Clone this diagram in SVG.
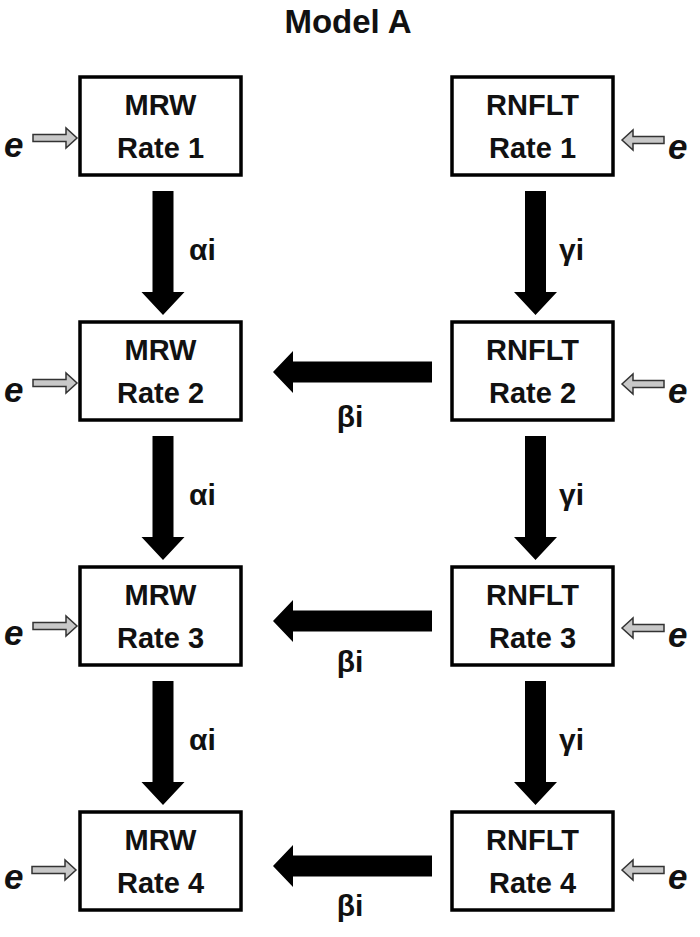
<svg xmlns="http://www.w3.org/2000/svg" width="700" height="937" viewBox="0 0 700 937">
<defs>
<style>
.box{fill:#fff;stroke:#000;stroke-width:3.5}
.bt{font-family:"Liberation Sans",Arial,sans-serif;font-weight:bold;font-size:29px;text-anchor:middle;fill:#111}
.lbl{font-family:"Liberation Sans",Arial,sans-serif;font-weight:bold;font-size:30px;fill:#111}
.e{font-family:"Liberation Sans",Arial,sans-serif;font-weight:bold;font-style:italic;font-size:35px;fill:#111}
.big{fill:#000}
.gray{fill:#c8c8c8;stroke:#333;stroke-width:1.5;stroke-linejoin:miter}
</style>
<path id="downArrow" class="big" d="M-10.5,0 H10.5 V101 H21.5 L0,124 L-21.5,101 H-10.5 Z"/>
<path id="leftArrow" class="big" d="M0,0 L20,-21 V-10.5 H159 V10.5 H20 V21 Z"/>
<path id="eRight" class="gray" d="M0,-3.5 H33 V-10 L44,0 L33,10 V3.5 H0 Z"/>
<path id="eLeft" class="gray" d="M0,0 L11,-10 V-3.5 H42 V3.5 H11 V10 Z"/>
</defs>
<rect width="700" height="937" fill="#fff"/>
<text x="348" y="33" class="bt" style="font-size:33px">Model A</text>

<g id="connectors">
  <use href="#downArrow" x="163" y="191"/>
  <use href="#downArrow" x="163" y="436"/>
  <use href="#downArrow" x="163" y="681"/>
  <use href="#downArrow" x="535.5" y="191"/>
  <use href="#downArrow" x="535.5" y="436"/>
  <use href="#downArrow" x="535.5" y="681"/>
  <use href="#leftArrow" x="273" y="372"/>
  <use href="#leftArrow" x="273" y="621"/>
  <use href="#leftArrow" x="273" y="866"/>
  <text x="189" y="260" class="lbl">αi</text>
  <text x="189" y="505" class="lbl">αi</text>
  <text x="189" y="750" class="lbl">αi</text>
  <text x="559" y="260" class="lbl">γi</text>
  <text x="559" y="505" class="lbl">γi</text>
  <text x="559" y="750" class="lbl">γi</text>
  <text x="350" y="427" class="lbl" text-anchor="middle">βi</text>
  <text x="350" y="672" class="lbl" text-anchor="middle">βi</text>
  <text x="350" y="916" class="lbl" text-anchor="middle">βi</text>
</g>

<g id="mrw1"><rect class="box" x="80" y="77" width="161" height="98"/><text class="bt" x="160.5" y="115">MRW</text><text class="bt" x="160.5" y="158">Rate 1</text></g>
<g id="mrw2"><rect class="box" x="80" y="322" width="161" height="98"/><text class="bt" x="160.5" y="360">MRW</text><text class="bt" x="160.5" y="403">Rate 2</text></g>
<g id="mrw3"><rect class="box" x="80" y="567" width="161" height="98"/><text class="bt" x="160.5" y="605">MRW</text><text class="bt" x="160.5" y="648">Rate 3</text></g>
<g id="mrw4"><rect class="box" x="80" y="812" width="161" height="98"/><text class="bt" x="160.5" y="850">MRW</text><text class="bt" x="160.5" y="893">Rate 4</text></g>

<g id="rnflt1"><rect class="box" x="452" y="77" width="161" height="98"/><text class="bt" x="532.5" y="115">RNFLT</text><text class="bt" x="532.5" y="158">Rate 1</text></g>
<g id="rnflt2"><rect class="box" x="452" y="322" width="161" height="98"/><text class="bt" x="532.5" y="360">RNFLT</text><text class="bt" x="532.5" y="403">Rate 2</text></g>
<g id="rnflt3"><rect class="box" x="452" y="567" width="161" height="98"/><text class="bt" x="532.5" y="605">RNFLT</text><text class="bt" x="532.5" y="648">Rate 3</text></g>
<g id="rnflt4"><rect class="box" x="452" y="812" width="161" height="98"/><text class="bt" x="532.5" y="850">RNFLT</text><text class="bt" x="532.5" y="893">Rate 4</text></g>

<g id="errors">
  <use href="#eRight" x="33" y="138"/><text class="e" x="4" y="157">e</text>
  <use href="#eRight" x="33" y="383"/><text class="e" x="4" y="402">e</text>
  <use href="#eRight" x="33" y="626"/><text class="e" x="4" y="645">e</text>
  <use href="#eRight" x="32" y="870"/><text class="e" x="4" y="889">e</text>
  <use href="#eLeft" x="622" y="140"/><text class="e" x="668" y="159">e</text>
  <use href="#eLeft" x="622" y="384"/><text class="e" x="668" y="403">e</text>
  <use href="#eLeft" x="622" y="628"/><text class="e" x="668" y="647">e</text>
  <use href="#eLeft" x="622" y="870"/><text class="e" x="668" y="889">e</text>
</g>
</svg>
